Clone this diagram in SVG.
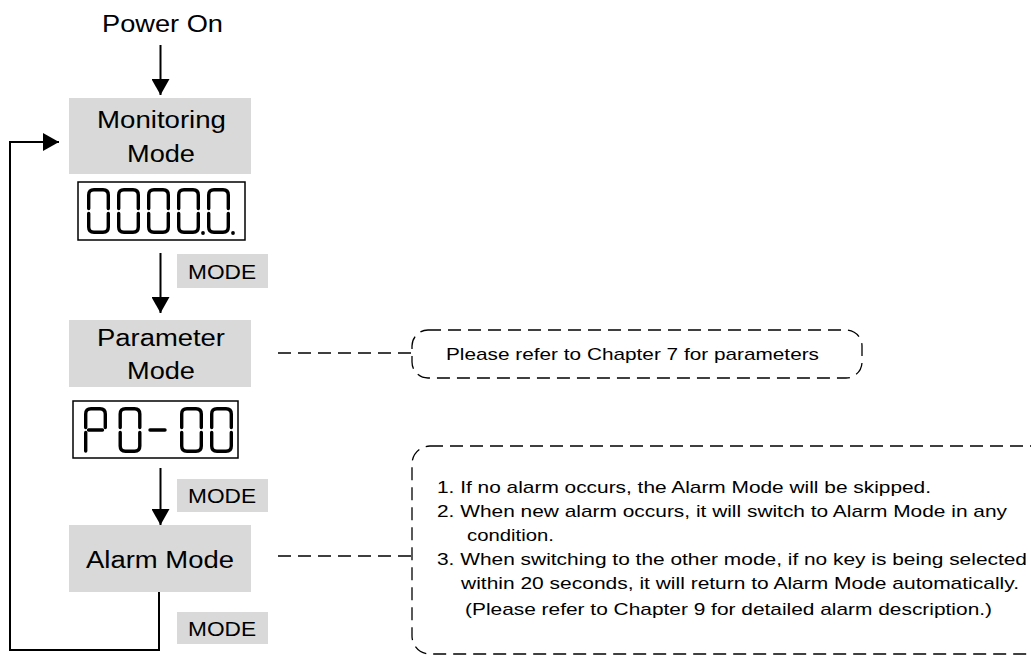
<svg xmlns="http://www.w3.org/2000/svg" xmlns:xlink="http://www.w3.org/1999/xlink" width="1031" height="657" viewBox="0 0 1031 657">
<style>
  .big { font-family: "Liberation Sans", Arial, sans-serif; font-size: 23.5px; fill: #000; }
  .key { font-family: "Liberation Sans", Arial, sans-serif; font-size: 20px; fill: #000; }
  .note { font-family: "Liberation Sans", Arial, sans-serif; font-size: 17px; fill: #000; }
  .mode { fill: #d9d9d9; }
  .disp { fill: #fff; stroke: #000; stroke-width: 1.5; }
  .seg { fill: none; stroke: #000; stroke-width: 3.4; stroke-linecap: round; stroke-linejoin: round; }
  .wire { fill: none; stroke: #000; stroke-width: 2; }
  .dash { fill: none; stroke: #000; stroke-width: 1.3; stroke-dasharray: 13 7; }
</style>
<defs>
  <marker id="ah" viewBox="0 0 16 18" refX="16" refY="9" markerWidth="16" markerHeight="18" markerUnits="userSpaceOnUse" orient="auto">
    <path d="M0,0 L16,9 L0,18 Z" fill="#000"/>
  </marker>
  <g id="d0">
    <path class="seg" d="M1.7,20.5 V7 Q1.7,1.7 7,1.7 H16 Q21.3,1.7 21.3,7 V20.5"/>
    <path class="seg" d="M1.7,25.5 V39 Q1.7,44.3 7,44.3 H16 Q21.3,44.3 21.3,39 V25.5"/>
  </g>
  <g id="dP">
    <path class="seg" d="M1.7,20.5 V7 Q1.7,1.7 7,1.7 H16 Q21.3,1.7 21.3,7 V20.5"/>
    <path class="seg" d="M4.5,23 H18.5"/>
    <path class="seg" d="M1.7,25.5 V44"/>
  </g>
</defs>

<g id="connectors">
  <line class="wire" x1="160.5" y1="45" x2="160.5" y2="95" marker-end="url(#ah)"/>
  <line class="wire" x1="160.5" y1="253" x2="160.5" y2="313" marker-end="url(#ah)"/>
  <line class="wire" x1="160.5" y1="468" x2="160.5" y2="525" marker-end="url(#ah)"/>
  <polyline class="wire" points="159,592 159,650 10,650 10,142 59,142" marker-end="url(#ah)"/>
  <line class="dash" x1="278" y1="353" x2="412" y2="353"/>
  <line class="dash" x1="278" y1="556" x2="412" y2="556"/>
</g>

<g id="power-on">
  <text class="big" x="102" y="32" textLength="121" lengthAdjust="spacingAndGlyphs">Power On</text>
</g>

<g id="monitoring-mode">
  <rect class="mode" x="69" y="98" width="182" height="76"/>
  <text class="big" x="97" y="128" textLength="129" lengthAdjust="spacingAndGlyphs">Monitoring</text>
  <text class="big" x="127" y="162" textLength="68" lengthAdjust="spacingAndGlyphs">Mode</text>
</g>

<g id="display-monitor">
  <rect class="disp" x="78" y="182" width="167" height="58"/>
  <use xlink:href="#d0" x="87" y="188"/>
  <use xlink:href="#d0" x="117" y="188"/>
  <use xlink:href="#d0" x="147" y="188"/>
  <use xlink:href="#d0" x="177" y="188"/>
  <use xlink:href="#d0" x="207" y="188"/>
  <circle cx="203" cy="233" r="1.9" fill="#000"/>
  <circle cx="233" cy="233" r="1.9" fill="#000"/>
</g>

<g id="mode-key-1">
  <rect class="mode" x="177" y="254" width="91" height="34"/>
  <text class="key" x="188" y="279" textLength="68" lengthAdjust="spacingAndGlyphs">MODE</text>
</g>

<g id="parameter-mode">
  <rect class="mode" x="69" y="320" width="182" height="67"/>
  <text class="big" x="97" y="346" textLength="128" lengthAdjust="spacingAndGlyphs">Parameter</text>
  <text class="big" x="127" y="379" textLength="68" lengthAdjust="spacingAndGlyphs">Mode</text>
</g>

<g id="display-parameter">
  <rect class="disp" x="73" y="401" width="165" height="57"/>
  <use xlink:href="#dP" x="84" y="407"/>
  <use xlink:href="#d0" x="118.5" y="407"/>
  <path class="seg" d="M150,430 H165"/>
  <use xlink:href="#d0" x="180" y="407"/>
  <use xlink:href="#d0" x="210" y="407"/>
</g>

<g id="mode-key-2">
  <rect class="mode" x="177" y="479" width="91" height="33"/>
  <text class="key" x="188" y="503" textLength="68" lengthAdjust="spacingAndGlyphs">MODE</text>
</g>

<g id="alarm-mode">
  <rect class="mode" x="69" y="525" width="182" height="67"/>
  <text class="big" x="86" y="568" textLength="148" lengthAdjust="spacingAndGlyphs">Alarm Mode</text>
</g>

<g id="mode-key-3">
  <rect class="mode" x="177" y="612" width="91" height="32"/>
  <text class="key" x="188" y="636" textLength="68" lengthAdjust="spacingAndGlyphs">MODE</text>
</g>

<g id="note-parameter">
  <rect class="dash" x="412" y="330" width="450" height="48" rx="16" ry="16"/>
  <text class="note" x="446" y="360" textLength="373" lengthAdjust="spacingAndGlyphs">Please refer to Chapter 7 for parameters</text>
</g>

<g id="note-alarm">
  <rect class="dash" x="412" y="446" width="640" height="208" rx="18" ry="18"/>
  <text class="note" x="437" y="493" textLength="494" lengthAdjust="spacingAndGlyphs">1. If no alarm occurs, the Alarm Mode will be skipped.</text>
  <text class="note" x="437" y="517" textLength="570" lengthAdjust="spacingAndGlyphs">2. When new alarm occurs, it will switch to Alarm Mode in any</text>
  <text class="note" x="467" y="541" textLength="87" lengthAdjust="spacingAndGlyphs">condition.</text>
  <text class="note" x="437" y="565" textLength="590" lengthAdjust="spacingAndGlyphs">3. When switching to the other mode, if no key is being selected</text>
  <text class="note" x="461" y="589" textLength="558" lengthAdjust="spacingAndGlyphs">within 20 seconds, it will return to Alarm Mode automatically.</text>
  <text class="note" x="465" y="615" textLength="527" lengthAdjust="spacingAndGlyphs">(Please refer to Chapter 9 for detailed alarm description.)</text>
</g>
</svg>
